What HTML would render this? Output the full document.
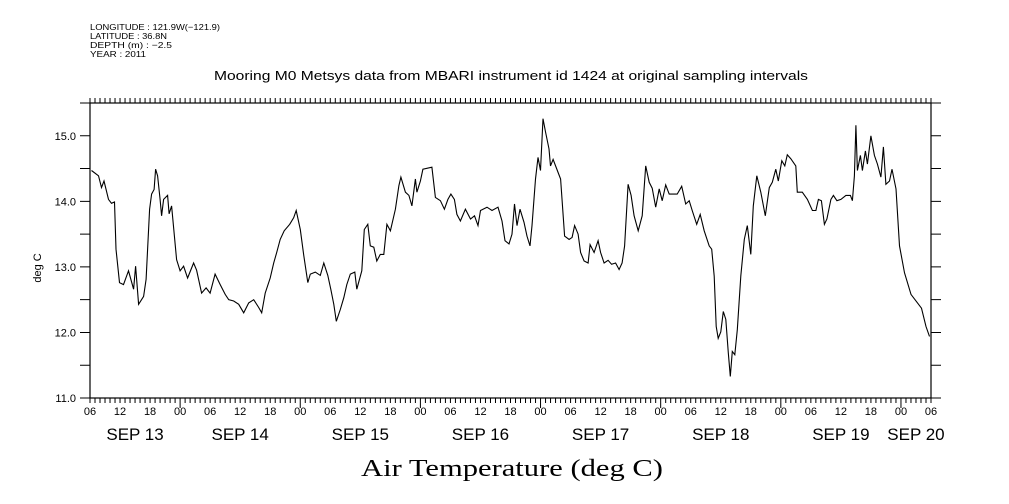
<!DOCTYPE html>
<html><head><meta charset="utf-8"><style>
html,body{margin:0;padding:0;background:#fff;}
svg{display:block;font-family:"Liberation Sans",sans-serif;}
</style></head><body>
<svg id="chart" width="1009" height="504" viewBox="0 0 1009 504" xmlns="http://www.w3.org/2000/svg">
<g font-size="8.5" fill="#000">
<text x="90" y="30" textLength="130" lengthAdjust="spacingAndGlyphs">LONGITUDE : 121.9W(−121.9)</text>
<text x="90" y="39" textLength="77" lengthAdjust="spacingAndGlyphs">LATITUDE : 36.8N</text>
<text x="90" y="48" textLength="82" lengthAdjust="spacingAndGlyphs">DEPTH (m) : −2.5</text>
<text x="90" y="57" textLength="56" lengthAdjust="spacingAndGlyphs">YEAR : 2011</text>
</g>
<text x="214" y="80" textLength="594" lengthAdjust="spacingAndGlyphs" font-size="12.5">Mooring M0 Metsys data from MBARI instrument id 1424 at original sampling intervals</text>
<text x="0" y="0" transform="translate(41,268) rotate(-90)" text-anchor="middle" font-size="11">deg C</text>
<text x="361" y="476" textLength="302" lengthAdjust="spacingAndGlyphs" font-size="24" font-family="Liberation Serif, serif">Air Temperature (deg C)</text>
<g id="axes"></g>
<g id="series"></g>
</svg>
<script>
const hours=[0.3,1.7,2.3,2.8,3.7,4.3,4.9,5.2,5.9,6.7,7.7,8.7,9.1,9.7,10.7,11.2,11.9,12.3,12.8,13.1,13.5,14,14.3,14.7,15.5,15.8,16.3,17.3,18,18.7,19.5,20.7,21.3,22.3,23.2,24,25,26,27,27.7,28.7,29.7,30.7,31.7,32.7,33.7,34.3,35,36,36.7,37.3,38,38.8,39.9,40.7,41.2,42,42.7,43.5,44,45,46,46.7,47.5,48.1,48.7,49.2,50,50.7,51.3,52,52.9,53.3,54.3,54.8,55.5,56,56.7,57.3,58,58.7,59.3,60,61,61.7,62.1,63,63.7,64.3,65,65.3,66,66.5,68.3,69,70,70.8,71.5,72.1,72.8,73.3,74,75,76,76.8,77.5,78,79.3,80.3,81.5,82.3,82.9,83.7,84.3,84.8,85.3,85.9,86.7,87.3,87.9,88.3,89,89.5,90,90.5,91,91.7,92,92.5,93.5,94,94.8,95.7,96.3,96.8,97.5,98,98.7,99.5,99.9,100.7,101.5,102,102.7,103.5,104.2,105,105.7,106.3,106.8,107.5,108.1,108.7,109.5,110.3,111,111.7,112.3,113,113.7,114.3,115,115.7,116.7,117.3,118.2,119,119.7,120.3,121.2,121.9,122.7,123.7,124.2,124.7,125.1,125.5,126,126.5,127,127.5,127.9,128.3,128.8,129.3,130,130.7,131.3,132,132.5,133.2,134,134.9,135.7,136.3,137,137.5,138.2,138.8,139.3,140,141,141.3,142.3,143.3,144.3,145,145.5,146.1,146.7,147.2,148,148.5,149.2,150,151,151.9,152.3,152.7,153,153.3,153.9,154.3,154.9,155.3,156,156.7,157.3,158,158.5,159,159.7,160.2,161,161.7,162.7,164,165.3,166.1,167,167.7];
const temps=[14.47,14.39,14.21,14.31,14.03,13.97,13.99,13.27,12.76,12.73,12.94,12.66,13.01,12.43,12.55,12.81,13.88,14.11,14.18,14.49,14.39,14.03,13.78,14.03,14.09,13.81,13.93,13.11,12.94,13.01,12.83,13.06,12.95,12.6,12.68,12.6,12.89,12.73,12.58,12.5,12.48,12.43,12.3,12.45,12.5,12.38,12.3,12.6,12.83,13.06,13.22,13.42,13.55,13.65,13.75,13.86,13.57,13.17,12.76,12.89,12.92,12.87,13.06,12.87,12.66,12.43,12.17,12.35,12.53,12.73,12.89,12.92,12.66,12.94,13.57,13.65,13.32,13.3,13.09,13.19,13.19,13.65,13.55,13.88,14.24,14.37,14.14,14.09,13.93,14.34,14.14,14.31,14.49,14.52,14.06,14.01,13.88,14.03,14.11,14.03,13.8,13.7,13.88,13.73,13.78,13.63,13.86,13.91,13.86,13.91,13.7,13.4,13.35,13.5,13.96,13.63,13.88,13.68,13.47,13.32,13.63,14.34,14.67,14.47,15.26,15.06,14.8,14.54,14.64,14.44,14.34,13.47,13.42,13.45,13.63,13.5,13.22,13.09,13.06,13.34,13.22,13.4,13.22,13.06,13.1,13.04,13.06,12.96,13.06,13.32,14.26,14.09,13.78,13.55,13.78,14.54,14.29,14.2,13.91,14.19,14.01,14.25,14.11,14.11,14.11,14.23,13.96,14.01,13.86,13.65,13.8,13.55,13.32,13.27,12.86,12.09,11.91,12.01,12.32,12.2,11.69,11.33,11.71,11.66,12.04,12.86,13.42,13.63,13.19,13.93,14.39,14.14,13.78,14.21,14.29,14.49,14.31,14.62,14.54,14.71,14.65,14.54,14.14,14.14,14.03,13.86,13.86,14.03,14.01,13.65,13.73,14.03,14.09,14.01,14.03,14.09,14.09,14.01,14.39,15.16,14.47,14.7,14.47,14.77,14.57,15,14.7,14.57,14.37,14.83,14.26,14.31,14.49,14.19,13.32,12.91,12.58,12.45,12.37,12.09,11.94];
const yTickLabels=["11.0","12.0","13.0","14.0","15.0"];
const hourTickLabels=["06","12","18","00"];
const dayLabels=["SEP 13","SEP 14","SEP 15","SEP 16","SEP 17","SEP 18","SEP 19","SEP 20"];

const L=90,R=931,T=103,B=398,H0=0,H1=168,V0=11,V1=15.5;
function xs(h){return L+(h-H0)/(H1-H0)*(R-L);}
function ys(v){return B-(v-V0)/(V1-V0)*(B-T);}
const NS="http://www.w3.org/2000/svg";
function mk(tag,attrs,parent,txt){const e=document.createElementNS(NS,tag);for(const k in attrs)e.setAttribute(k,attrs[k]);if(txt!==undefined)e.textContent=txt;parent.appendChild(e);return e;}
const ax=document.getElementById('axes');
const frame=mk('rect',{x:L,y:T,width:R-L,height:B-T,fill:'none',stroke:'#000','stroke-width':1.2},ax);


let p='';
for(let v=V0;v<=V1+1e-9;v+=0.5){const y=ys(v);p+=`M${L-10},${y}H${L}M${R},${y}H${R+10}`;}
for(let h=0;h<=168;h++){const x=xs(h);const major=((h+6)%24===0);p+=`M${x},${T}V${T-5}M${x},${B}V${B+(major?10:5)}`;}
const ticks=mk('path',{d:p,stroke:'#000','stroke-width':1,fill:'none'},ax);


yTickLabels.forEach(s=>{const t=mk('text',{x:L-14,y:ys(parseFloat(s))+4,'text-anchor':'end','font-size':11},ax,s);

});
for(let h=0;h<=168;h+=6){const t=mk('text',{x:xs(h),y:B+17,'text-anchor':'middle','font-size':11},ax,hourTickLabels[(h/6)%4]);

}
dayLabels.forEach((s,i)=>{const a=Math.max(0,i*24-6),b=Math.min(168,i*24+18);const t=mk('text',{x:xs((a+b)/2),y:B+42,'text-anchor':'middle','font-size':17},ax,s);

});
const d=hours.map((h,i)=>(i?'L':'M')+xs(h).toFixed(1)+','+ys(temps[i]).toFixed(1)).join('');
const line=mk('path',{d:d,fill:'none',stroke:'#000','stroke-width':1.1},document.getElementById('series'));


</script>
</body></html>
